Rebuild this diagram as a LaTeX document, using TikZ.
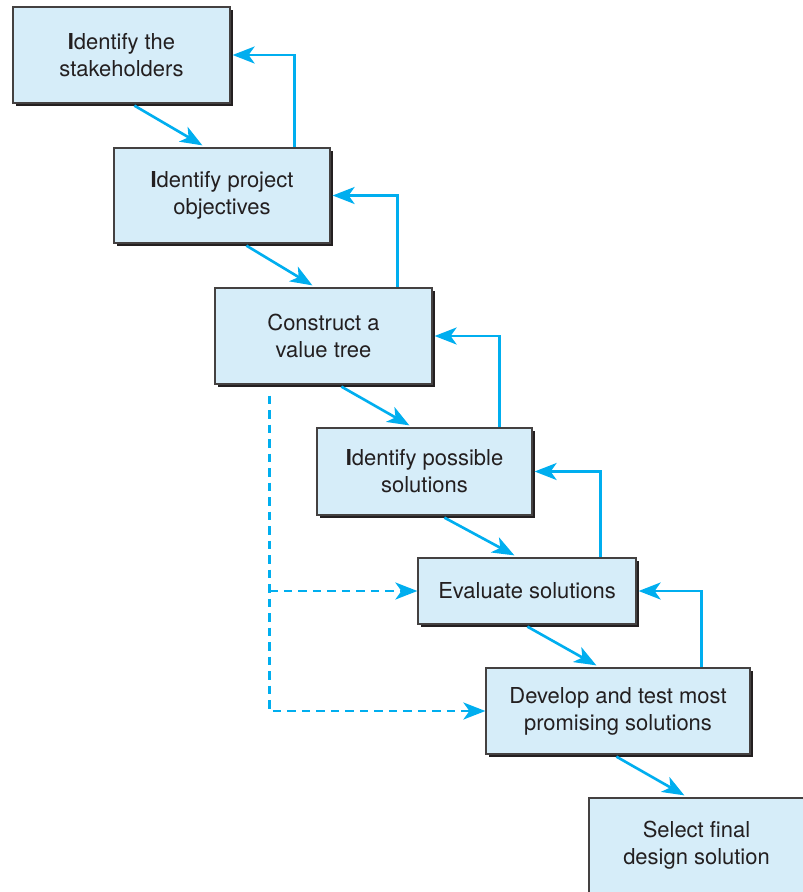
\documentclass[tikz,border=0pt]{standalone}
\usepackage{fontspec}
\setmainfont{TeX Gyre Heros}
\usepackage{xcolor}
\usepackage{tikz}
\usetikzlibrary{shapes,arrows.meta,shadows}

\definecolor{boxfill}{HTML}{D6EDF9}
\definecolor{flowblue}{HTML}{00AEEF}
\definecolor{inkgray}{HTML}{231F20}

\begin{document}
\begin{tikzpicture}[
    box/.style={draw=inkgray!85, line width=0.7pt, fill=boxfill, text=inkgray,
        align=center, font=\fontsize{12.5}{15.4}\selectfont,
        drop shadow={shadow xshift=0.06cm, shadow yshift=-0.06cm, fill=inkgray, opacity=1}},
    flow/.style={draw=flowblue, line width=1.5pt,
        -{Stealth[length=0.44cm, width=0.34cm, inset=0.12cm]}},
    dashflow/.style={flow, dash pattern=on 0.17cm off 0.12cm}
]
\useasboundingbox (0,0) rectangle (16.06,-17.84);

% Steps of the design process
\node[box, minimum width=4.34cm, minimum height=1.92cm] (s1) at (2.43,-1.10)
    {\textbf{I}dentify the\\stakeholders};
\node[box, minimum width=4.32cm, minimum height=1.90cm] (s2) at (4.44,-3.91)
    {\textbf{I}dentify project\\objectives};
\node[box, minimum width=4.34cm, minimum height=1.92cm] (s3) at (6.47,-6.72)
    {Construct a\\value tree};
\node[box, minimum width=4.30cm, minimum height=1.74cm] (s4) at (8.49,-9.43)
    {\textbf{I}dentify possible\\solutions};
\node[box, minimum width=4.36cm, minimum height=1.32cm] (s5) at (10.54,-11.82)
    {Evaluate solutions};
\node[box, minimum width=5.28cm, minimum height=1.72cm] (s6) at (12.36,-14.22)
    {Develop and test most\\promising solutions};
\node[box, minimum width=4.30cm, minimum height=1.90cm] (s7) at (13.93,-16.91)
    {Select final\\design solution};

% Forward arrows
\foreach \a/\b/\from/\to in {s1/s2/2.44/1.78, s2/s3/2.66/1.96, s3/s4/2.54/1.86,
        s4/s5/2.56/1.94, s5/s6/2.20/2.22, s6/s7/2.62/1.92} {
    \draw[flow] ([xshift=\from cm, yshift=-0.04cm]\a.south west)
        -- ([xshift=\to cm, yshift=0.04cm]\b.north west);
}

% Feedback arrows
\foreach \a/\b/\up in {s2/s1/3.62, s3/s2/3.66, s4/s3/3.66, s5/s4/3.66, s6/s5/4.32} {
    \draw[flow] ([xshift=\up cm]\a.north west) |- ([xshift=0.04cm]\b.east);
}

% Dashed shortcuts from the value tree
\coordinate (d0) at ([xshift=1.10cm, yshift=-0.22cm]s3.south west);
\draw[dashflow] (d0) |- (s6.west);
\draw[dashflow] (d0 |- s5.west) -- (s5.west);
\end{tikzpicture}
\end{document}
